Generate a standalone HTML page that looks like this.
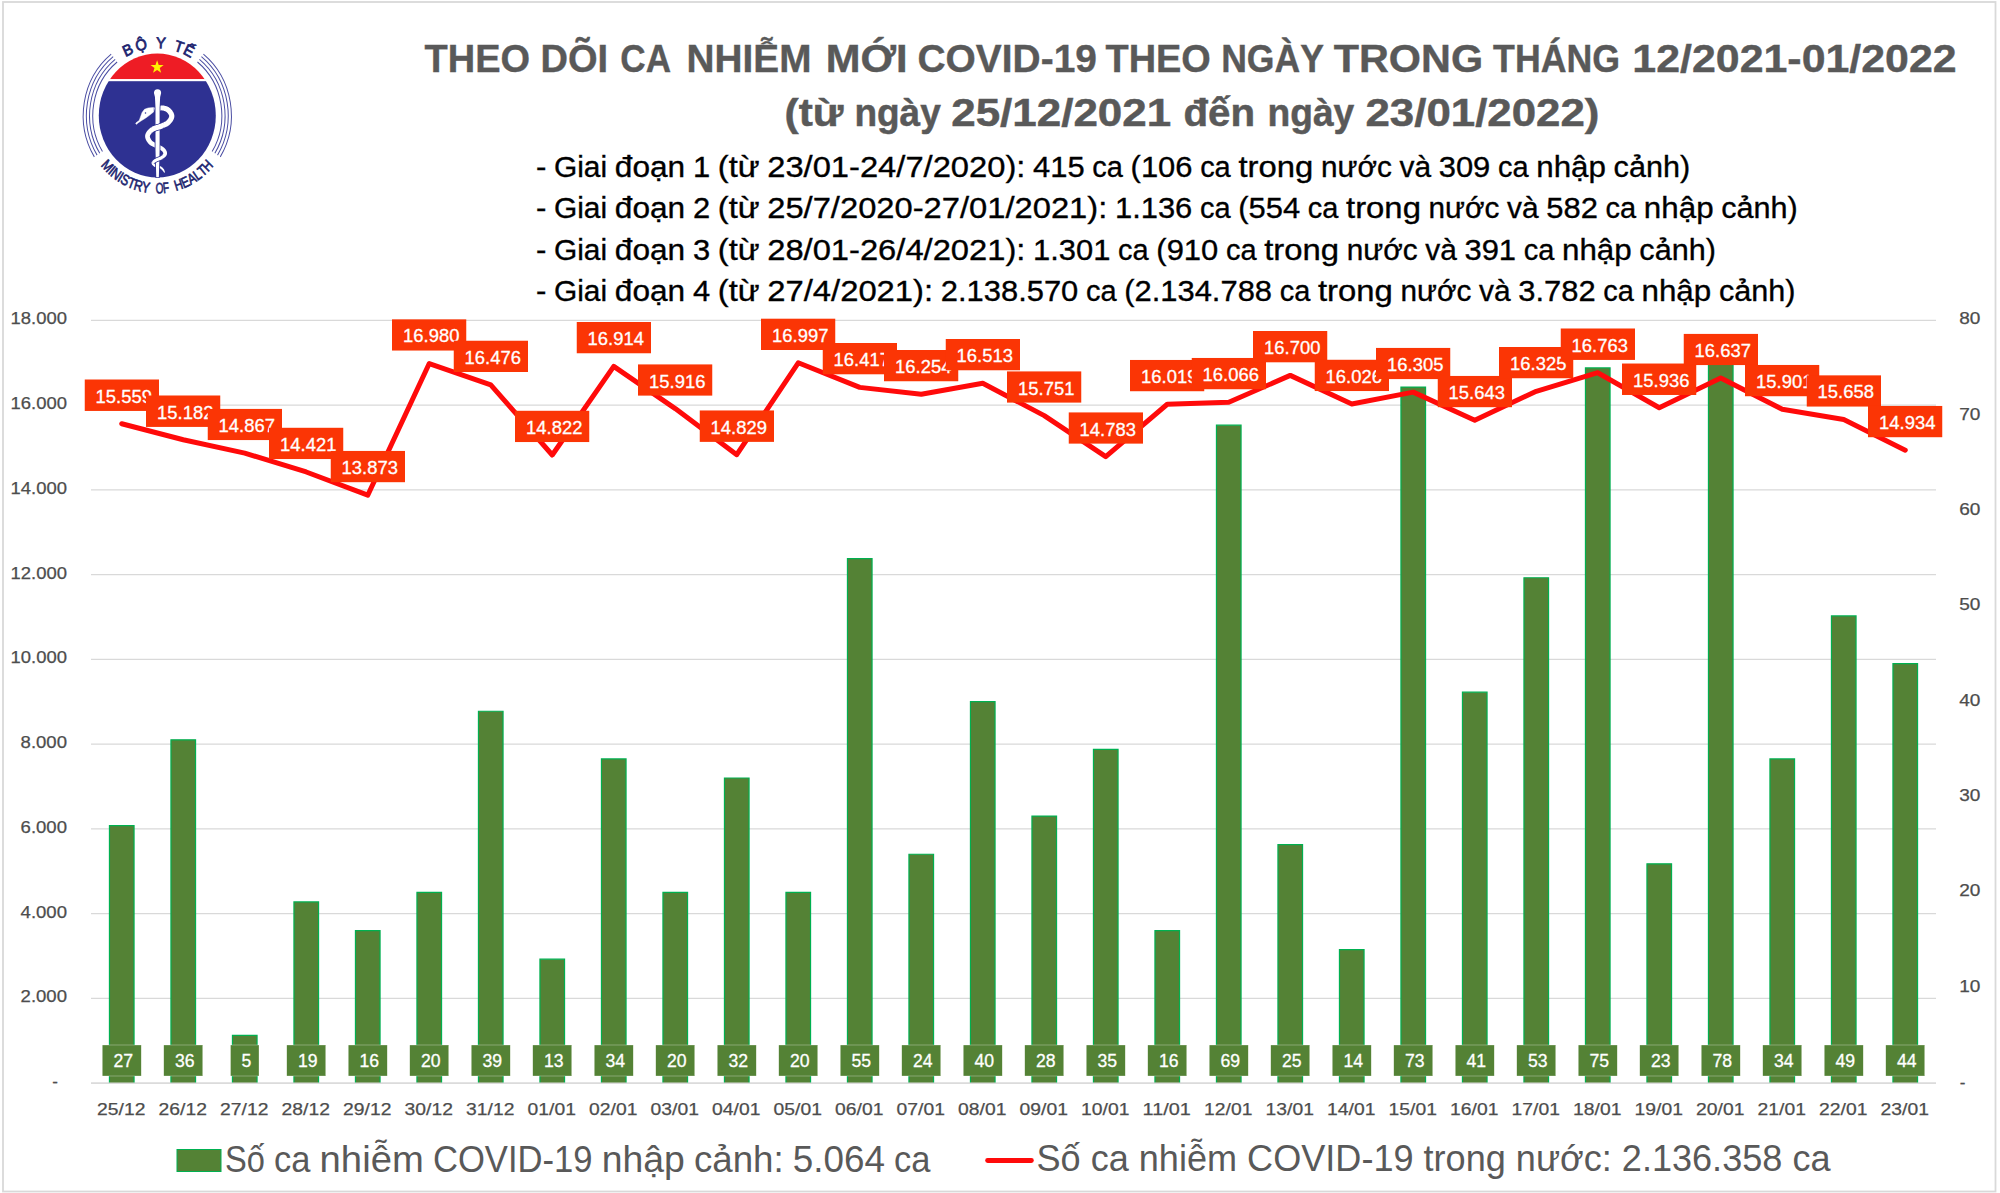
<!DOCTYPE html>
<html lang="vi">
<head>
<meta charset="utf-8">
<title>Theo dõi ca nhiễm mới COVID-19</title>
<style>
html,body{margin:0;padding:0;background:#ffffff;}
body{width:2000px;height:1193px;overflow:hidden;position:relative;font-family:"Liberation Sans",sans-serif;}
svg text{font-family:"Liberation Sans",sans-serif;}
</style>
</head>
<body>
<svg width="2000" height="1193" viewBox="0 0 2000 1193" style="position:absolute;left:0;top:0">
<rect x="0" y="0" width="2000" height="1193" fill="#ffffff"/>
<rect x="3" y="2" width="1992.5" height="1189.5" fill="none" stroke="#d9d9d9" stroke-width="1.8"/>
<g stroke="#d9d9d9" stroke-width="1.3">
<line x1="91.0" y1="1083.10" x2="1936.0" y2="1083.10"/>
<line x1="91.0" y1="998.34" x2="1936.0" y2="998.34"/>
<line x1="91.0" y1="913.59" x2="1936.0" y2="913.59"/>
<line x1="91.0" y1="828.83" x2="1936.0" y2="828.83"/>
<line x1="91.0" y1="744.08" x2="1936.0" y2="744.08"/>
<line x1="91.0" y1="659.32" x2="1936.0" y2="659.32"/>
<line x1="91.0" y1="574.57" x2="1936.0" y2="574.57"/>
<line x1="91.0" y1="489.81" x2="1936.0" y2="489.81"/>
<line x1="91.0" y1="405.06" x2="1936.0" y2="405.06"/>
<line x1="91.0" y1="320.30" x2="1936.0" y2="320.30"/>
</g>
<g font-family="Liberation Sans, sans-serif" font-size="17" fill="#4d4d4d" stroke="#4d4d4d" stroke-width="0.25" text-anchor="end">
<text x="67" y="1002.2" textLength="46.4" lengthAdjust="spacingAndGlyphs">2.000</text>
<text x="67" y="917.5" textLength="46.4" lengthAdjust="spacingAndGlyphs">4.000</text>
<text x="67" y="832.7" textLength="46.4" lengthAdjust="spacingAndGlyphs">6.000</text>
<text x="67" y="748.0" textLength="46.4" lengthAdjust="spacingAndGlyphs">8.000</text>
<text x="67" y="663.2" textLength="56.4" lengthAdjust="spacingAndGlyphs">10.000</text>
<text x="67" y="578.5" textLength="56.4" lengthAdjust="spacingAndGlyphs">12.000</text>
<text x="67" y="493.7" textLength="56.4" lengthAdjust="spacingAndGlyphs">14.000</text>
<text x="67" y="409.0" textLength="56.4" lengthAdjust="spacingAndGlyphs">16.000</text>
<text x="67" y="324.2" textLength="56.4" lengthAdjust="spacingAndGlyphs">18.000</text>
<text x="58" y="1087.0">-</text>
</g>
<g font-family="Liberation Sans, sans-serif" font-size="17" fill="#4d4d4d" stroke="#4d4d4d" stroke-width="0.25" text-anchor="middle">
<text x="1969.8" y="991.6" textLength="21.2" lengthAdjust="spacingAndGlyphs">10</text>
<text x="1969.8" y="896.3" textLength="21.2" lengthAdjust="spacingAndGlyphs">20</text>
<text x="1969.8" y="800.9" textLength="21.2" lengthAdjust="spacingAndGlyphs">30</text>
<text x="1969.8" y="705.6" textLength="21.2" lengthAdjust="spacingAndGlyphs">40</text>
<text x="1969.8" y="610.2" textLength="21.2" lengthAdjust="spacingAndGlyphs">50</text>
<text x="1969.8" y="514.9" textLength="21.2" lengthAdjust="spacingAndGlyphs">60</text>
<text x="1969.8" y="419.5" textLength="21.2" lengthAdjust="spacingAndGlyphs">70</text>
<text x="1969.8" y="324.2" textLength="21.2" lengthAdjust="spacingAndGlyphs">80</text>
<text x="1962.6" y="1087.7">-</text>
</g>
<g fill="#548235" stroke="#00b050" stroke-width="1.2">
<path d="M109.45 1083.10 V825.65 H134.05 V1083.10"/>
<path d="M170.95 1083.10 V739.84 H195.55 V1083.10"/>
<path d="M232.45 1083.10 V1035.42 H257.05 V1083.10"/>
<path d="M293.95 1083.10 V901.93 H318.55 V1083.10"/>
<path d="M355.45 1083.10 V930.54 H380.05 V1083.10"/>
<path d="M416.95 1083.10 V892.40 H441.55 V1083.10"/>
<path d="M478.45 1083.10 V711.23 H503.05 V1083.10"/>
<path d="M539.95 1083.10 V959.14 H564.55 V1083.10"/>
<path d="M601.45 1083.10 V758.91 H626.05 V1083.10"/>
<path d="M662.95 1083.10 V892.40 H687.55 V1083.10"/>
<path d="M724.45 1083.10 V777.98 H749.05 V1083.10"/>
<path d="M785.95 1083.10 V892.40 H810.55 V1083.10"/>
<path d="M847.45 1083.10 V558.67 H872.05 V1083.10"/>
<path d="M908.95 1083.10 V854.26 H933.55 V1083.10"/>
<path d="M970.45 1083.10 V701.70 H995.05 V1083.10"/>
<path d="M1031.95 1083.10 V816.12 H1056.55 V1083.10"/>
<path d="M1093.45 1083.10 V749.38 H1118.05 V1083.10"/>
<path d="M1154.95 1083.10 V930.54 H1179.55 V1083.10"/>
<path d="M1216.45 1083.10 V425.18 H1241.05 V1083.10"/>
<path d="M1277.95 1083.10 V844.72 H1302.55 V1083.10"/>
<path d="M1339.45 1083.10 V949.61 H1364.05 V1083.10"/>
<path d="M1400.95 1083.10 V387.04 H1425.55 V1083.10"/>
<path d="M1462.45 1083.10 V692.16 H1487.05 V1083.10"/>
<path d="M1523.95 1083.10 V577.74 H1548.55 V1083.10"/>
<path d="M1585.45 1083.10 V367.97 H1610.05 V1083.10"/>
<path d="M1646.95 1083.10 V863.79 H1671.55 V1083.10"/>
<path d="M1708.45 1083.10 V339.37 H1733.05 V1083.10"/>
<path d="M1769.95 1083.10 V758.91 H1794.55 V1083.10"/>
<path d="M1831.45 1083.10 V615.88 H1856.05 V1083.10"/>
<path d="M1892.95 1083.10 V663.56 H1917.55 V1083.10"/>
</g>
<line x1="91.0" y1="1083.10" x2="1936.0" y2="1083.10" stroke="#d9d9d9" stroke-width="1.4"/>
<g font-family="Liberation Sans, sans-serif" font-size="17.6" fill="#ffffff" stroke="#ffffff" stroke-width="0.3" text-anchor="middle">
<rect x="102.25" y="1045" width="39.00" height="31" fill="#548235"/>
<text x="123.35" y="1067.0" textLength="19.6" lengthAdjust="spacingAndGlyphs">27</text>
<rect x="163.75" y="1045" width="39.00" height="31" fill="#548235"/>
<text x="184.85" y="1067.0" textLength="19.6" lengthAdjust="spacingAndGlyphs">36</text>
<rect x="230.50" y="1045" width="28.50" height="31" fill="#548235"/>
<text x="246.35" y="1067.0" textLength="9.8" lengthAdjust="spacingAndGlyphs">5</text>
<rect x="286.75" y="1045" width="39.00" height="31" fill="#548235"/>
<text x="307.85" y="1067.0" textLength="19.6" lengthAdjust="spacingAndGlyphs">19</text>
<rect x="348.25" y="1045" width="39.00" height="31" fill="#548235"/>
<text x="369.35" y="1067.0" textLength="19.6" lengthAdjust="spacingAndGlyphs">16</text>
<rect x="409.75" y="1045" width="39.00" height="31" fill="#548235"/>
<text x="430.85" y="1067.0" textLength="19.6" lengthAdjust="spacingAndGlyphs">20</text>
<rect x="471.25" y="1045" width="39.00" height="31" fill="#548235"/>
<text x="492.35" y="1067.0" textLength="19.6" lengthAdjust="spacingAndGlyphs">39</text>
<rect x="532.75" y="1045" width="39.00" height="31" fill="#548235"/>
<text x="553.85" y="1067.0" textLength="19.6" lengthAdjust="spacingAndGlyphs">13</text>
<rect x="594.25" y="1045" width="39.00" height="31" fill="#548235"/>
<text x="615.35" y="1067.0" textLength="19.6" lengthAdjust="spacingAndGlyphs">34</text>
<rect x="655.75" y="1045" width="39.00" height="31" fill="#548235"/>
<text x="676.85" y="1067.0" textLength="19.6" lengthAdjust="spacingAndGlyphs">20</text>
<rect x="717.25" y="1045" width="39.00" height="31" fill="#548235"/>
<text x="738.35" y="1067.0" textLength="19.6" lengthAdjust="spacingAndGlyphs">32</text>
<rect x="778.75" y="1045" width="39.00" height="31" fill="#548235"/>
<text x="799.85" y="1067.0" textLength="19.6" lengthAdjust="spacingAndGlyphs">20</text>
<rect x="840.25" y="1045" width="39.00" height="31" fill="#548235"/>
<text x="861.35" y="1067.0" textLength="19.6" lengthAdjust="spacingAndGlyphs">55</text>
<rect x="901.75" y="1045" width="39.00" height="31" fill="#548235"/>
<text x="922.85" y="1067.0" textLength="19.6" lengthAdjust="spacingAndGlyphs">24</text>
<rect x="963.25" y="1045" width="39.00" height="31" fill="#548235"/>
<text x="984.35" y="1067.0" textLength="19.6" lengthAdjust="spacingAndGlyphs">40</text>
<rect x="1024.75" y="1045" width="39.00" height="31" fill="#548235"/>
<text x="1045.85" y="1067.0" textLength="19.6" lengthAdjust="spacingAndGlyphs">28</text>
<rect x="1086.25" y="1045" width="39.00" height="31" fill="#548235"/>
<text x="1107.35" y="1067.0" textLength="19.6" lengthAdjust="spacingAndGlyphs">35</text>
<rect x="1147.75" y="1045" width="39.00" height="31" fill="#548235"/>
<text x="1168.85" y="1067.0" textLength="19.6" lengthAdjust="spacingAndGlyphs">16</text>
<rect x="1209.25" y="1045" width="39.00" height="31" fill="#548235"/>
<text x="1230.35" y="1067.0" textLength="19.6" lengthAdjust="spacingAndGlyphs">69</text>
<rect x="1270.75" y="1045" width="39.00" height="31" fill="#548235"/>
<text x="1291.85" y="1067.0" textLength="19.6" lengthAdjust="spacingAndGlyphs">25</text>
<rect x="1332.25" y="1045" width="39.00" height="31" fill="#548235"/>
<text x="1353.35" y="1067.0" textLength="19.6" lengthAdjust="spacingAndGlyphs">14</text>
<rect x="1393.75" y="1045" width="39.00" height="31" fill="#548235"/>
<text x="1414.85" y="1067.0" textLength="19.6" lengthAdjust="spacingAndGlyphs">73</text>
<rect x="1455.25" y="1045" width="39.00" height="31" fill="#548235"/>
<text x="1476.35" y="1067.0" textLength="19.6" lengthAdjust="spacingAndGlyphs">41</text>
<rect x="1516.75" y="1045" width="39.00" height="31" fill="#548235"/>
<text x="1537.85" y="1067.0" textLength="19.6" lengthAdjust="spacingAndGlyphs">53</text>
<rect x="1578.25" y="1045" width="39.00" height="31" fill="#548235"/>
<text x="1599.35" y="1067.0" textLength="19.6" lengthAdjust="spacingAndGlyphs">75</text>
<rect x="1639.75" y="1045" width="39.00" height="31" fill="#548235"/>
<text x="1660.85" y="1067.0" textLength="19.6" lengthAdjust="spacingAndGlyphs">23</text>
<rect x="1701.25" y="1045" width="39.00" height="31" fill="#548235"/>
<text x="1722.35" y="1067.0" textLength="19.6" lengthAdjust="spacingAndGlyphs">78</text>
<rect x="1762.75" y="1045" width="39.00" height="31" fill="#548235"/>
<text x="1783.85" y="1067.0" textLength="19.6" lengthAdjust="spacingAndGlyphs">34</text>
<rect x="1824.25" y="1045" width="39.00" height="31" fill="#548235"/>
<text x="1845.35" y="1067.0" textLength="19.6" lengthAdjust="spacingAndGlyphs">49</text>
<rect x="1885.75" y="1045" width="39.00" height="31" fill="#548235"/>
<text x="1906.85" y="1067.0" textLength="19.6" lengthAdjust="spacingAndGlyphs">44</text>
</g>
<g font-family="Liberation Sans, sans-serif" font-size="17" fill="#4d4d4d" stroke="#4d4d4d" stroke-width="0.25" text-anchor="middle">
<text x="121.25" y="1114.5" textLength="48.3" lengthAdjust="spacingAndGlyphs">25/12</text>
<text x="182.75" y="1114.5" textLength="48.3" lengthAdjust="spacingAndGlyphs">26/12</text>
<text x="244.25" y="1114.5" textLength="48.3" lengthAdjust="spacingAndGlyphs">27/12</text>
<text x="305.75" y="1114.5" textLength="48.3" lengthAdjust="spacingAndGlyphs">28/12</text>
<text x="367.25" y="1114.5" textLength="48.3" lengthAdjust="spacingAndGlyphs">29/12</text>
<text x="428.75" y="1114.5" textLength="48.3" lengthAdjust="spacingAndGlyphs">30/12</text>
<text x="490.25" y="1114.5" textLength="48.3" lengthAdjust="spacingAndGlyphs">31/12</text>
<text x="551.75" y="1114.5" textLength="48.3" lengthAdjust="spacingAndGlyphs">01/01</text>
<text x="613.25" y="1114.5" textLength="48.3" lengthAdjust="spacingAndGlyphs">02/01</text>
<text x="674.75" y="1114.5" textLength="48.3" lengthAdjust="spacingAndGlyphs">03/01</text>
<text x="736.25" y="1114.5" textLength="48.3" lengthAdjust="spacingAndGlyphs">04/01</text>
<text x="797.75" y="1114.5" textLength="48.3" lengthAdjust="spacingAndGlyphs">05/01</text>
<text x="859.25" y="1114.5" textLength="48.3" lengthAdjust="spacingAndGlyphs">06/01</text>
<text x="920.75" y="1114.5" textLength="48.3" lengthAdjust="spacingAndGlyphs">07/01</text>
<text x="982.25" y="1114.5" textLength="48.3" lengthAdjust="spacingAndGlyphs">08/01</text>
<text x="1043.75" y="1114.5" textLength="48.3" lengthAdjust="spacingAndGlyphs">09/01</text>
<text x="1105.25" y="1114.5" textLength="48.3" lengthAdjust="spacingAndGlyphs">10/01</text>
<text x="1166.75" y="1114.5" textLength="48.3" lengthAdjust="spacingAndGlyphs">11/01</text>
<text x="1228.25" y="1114.5" textLength="48.3" lengthAdjust="spacingAndGlyphs">12/01</text>
<text x="1289.75" y="1114.5" textLength="48.3" lengthAdjust="spacingAndGlyphs">13/01</text>
<text x="1351.25" y="1114.5" textLength="48.3" lengthAdjust="spacingAndGlyphs">14/01</text>
<text x="1412.75" y="1114.5" textLength="48.3" lengthAdjust="spacingAndGlyphs">15/01</text>
<text x="1474.25" y="1114.5" textLength="48.3" lengthAdjust="spacingAndGlyphs">16/01</text>
<text x="1535.75" y="1114.5" textLength="48.3" lengthAdjust="spacingAndGlyphs">17/01</text>
<text x="1597.25" y="1114.5" textLength="48.3" lengthAdjust="spacingAndGlyphs">18/01</text>
<text x="1658.75" y="1114.5" textLength="48.3" lengthAdjust="spacingAndGlyphs">19/01</text>
<text x="1720.25" y="1114.5" textLength="48.3" lengthAdjust="spacingAndGlyphs">20/01</text>
<text x="1781.75" y="1114.5" textLength="48.3" lengthAdjust="spacingAndGlyphs">21/01</text>
<text x="1843.25" y="1114.5" textLength="48.3" lengthAdjust="spacingAndGlyphs">22/01</text>
<text x="1904.75" y="1114.5" textLength="48.3" lengthAdjust="spacingAndGlyphs">23/01</text>
</g>
<polyline points="121.75,423.74 183.25,439.72 244.75,453.07 306.25,471.97 367.75,495.19 429.25,363.53 490.75,384.88 552.25,454.98 613.75,366.32 675.25,408.62 736.75,454.68 798.25,362.80 859.75,387.38 921.25,394.29 982.75,383.32 1044.25,415.61 1105.75,456.63 1167.25,404.25 1228.75,402.26 1290.25,375.39 1351.75,403.95 1413.25,392.13 1474.75,420.18 1536.25,391.28 1597.75,372.72 1659.25,407.77 1720.75,378.06 1782.25,409.25 1843.75,419.55 1905.25,450.23" fill="none" stroke="#ff0a0a" stroke-width="5.0" stroke-linejoin="round" stroke-linecap="round"/>
<svg x="84.50" y="379.34" width="74.50" height="31.60" overflow="hidden">
<rect x="0" y="0" width="74.50" height="31.60" fill="#fb3505"/>
<text x="39.25" y="23.3" font-family="Liberation Sans, sans-serif" font-size="17.7" fill="#ffffff" stroke="#ffffff" stroke-width="0.3" text-anchor="middle" textLength="56.3" lengthAdjust="spacingAndGlyphs">15.559</text>
</svg>
<svg x="146.00" y="395.32" width="74.50" height="31.60" overflow="hidden">
<rect x="0" y="0" width="74.50" height="31.60" fill="#fb3505"/>
<text x="39.25" y="23.3" font-family="Liberation Sans, sans-serif" font-size="17.7" fill="#ffffff" stroke="#ffffff" stroke-width="0.3" text-anchor="middle" textLength="56.3" lengthAdjust="spacingAndGlyphs">15.182</text>
</svg>
<svg x="207.50" y="408.67" width="74.50" height="31.60" overflow="hidden">
<rect x="0" y="0" width="74.50" height="31.60" fill="#fb3505"/>
<text x="39.25" y="23.3" font-family="Liberation Sans, sans-serif" font-size="17.7" fill="#ffffff" stroke="#ffffff" stroke-width="0.3" text-anchor="middle" textLength="56.3" lengthAdjust="spacingAndGlyphs">14.867</text>
</svg>
<svg x="269.00" y="427.57" width="74.50" height="31.60" overflow="hidden">
<rect x="0" y="0" width="74.50" height="31.60" fill="#fb3505"/>
<text x="39.25" y="23.3" font-family="Liberation Sans, sans-serif" font-size="17.7" fill="#ffffff" stroke="#ffffff" stroke-width="0.3" text-anchor="middle" textLength="56.3" lengthAdjust="spacingAndGlyphs">14.421</text>
</svg>
<svg x="330.50" y="450.79" width="74.50" height="31.60" overflow="hidden">
<rect x="0" y="0" width="74.50" height="31.60" fill="#fb3505"/>
<text x="39.25" y="23.3" font-family="Liberation Sans, sans-serif" font-size="17.7" fill="#ffffff" stroke="#ffffff" stroke-width="0.3" text-anchor="middle" textLength="56.3" lengthAdjust="spacingAndGlyphs">13.873</text>
</svg>
<svg x="392.00" y="319.13" width="74.50" height="31.60" overflow="hidden">
<rect x="0" y="0" width="74.50" height="31.60" fill="#fb3505"/>
<text x="39.25" y="23.3" font-family="Liberation Sans, sans-serif" font-size="17.7" fill="#ffffff" stroke="#ffffff" stroke-width="0.3" text-anchor="middle" textLength="56.3" lengthAdjust="spacingAndGlyphs">16.980</text>
</svg>
<svg x="453.50" y="340.48" width="74.50" height="31.60" overflow="hidden">
<rect x="0" y="0" width="74.50" height="31.60" fill="#fb3505"/>
<text x="39.25" y="23.3" font-family="Liberation Sans, sans-serif" font-size="17.7" fill="#ffffff" stroke="#ffffff" stroke-width="0.3" text-anchor="middle" textLength="56.3" lengthAdjust="spacingAndGlyphs">16.476</text>
</svg>
<svg x="515.00" y="410.58" width="74.50" height="31.60" overflow="hidden">
<rect x="0" y="0" width="74.50" height="31.60" fill="#fb3505"/>
<text x="39.25" y="23.3" font-family="Liberation Sans, sans-serif" font-size="17.7" fill="#ffffff" stroke="#ffffff" stroke-width="0.3" text-anchor="middle" textLength="56.3" lengthAdjust="spacingAndGlyphs">14.822</text>
</svg>
<svg x="576.50" y="321.92" width="74.50" height="31.60" overflow="hidden">
<rect x="0" y="0" width="74.50" height="31.60" fill="#fb3505"/>
<text x="39.25" y="23.3" font-family="Liberation Sans, sans-serif" font-size="17.7" fill="#ffffff" stroke="#ffffff" stroke-width="0.3" text-anchor="middle" textLength="56.3" lengthAdjust="spacingAndGlyphs">16.914</text>
</svg>
<svg x="638.00" y="364.22" width="74.50" height="31.60" overflow="hidden">
<rect x="0" y="0" width="74.50" height="31.60" fill="#fb3505"/>
<text x="39.25" y="23.3" font-family="Liberation Sans, sans-serif" font-size="17.7" fill="#ffffff" stroke="#ffffff" stroke-width="0.3" text-anchor="middle" textLength="56.3" lengthAdjust="spacingAndGlyphs">15.916</text>
</svg>
<svg x="699.50" y="410.28" width="74.50" height="31.60" overflow="hidden">
<rect x="0" y="0" width="74.50" height="31.60" fill="#fb3505"/>
<text x="39.25" y="23.3" font-family="Liberation Sans, sans-serif" font-size="17.7" fill="#ffffff" stroke="#ffffff" stroke-width="0.3" text-anchor="middle" textLength="56.3" lengthAdjust="spacingAndGlyphs">14.829</text>
</svg>
<svg x="761.00" y="318.40" width="74.50" height="31.60" overflow="hidden">
<rect x="0" y="0" width="74.50" height="31.60" fill="#fb3505"/>
<text x="39.25" y="23.3" font-family="Liberation Sans, sans-serif" font-size="17.7" fill="#ffffff" stroke="#ffffff" stroke-width="0.3" text-anchor="middle" textLength="56.3" lengthAdjust="spacingAndGlyphs">16.997</text>
</svg>
<svg x="822.50" y="342.98" width="74.50" height="31.60" overflow="hidden">
<rect x="0" y="0" width="74.50" height="31.60" fill="#fb3505"/>
<text x="39.25" y="23.3" font-family="Liberation Sans, sans-serif" font-size="17.7" fill="#ffffff" stroke="#ffffff" stroke-width="0.3" text-anchor="middle" textLength="56.3" lengthAdjust="spacingAndGlyphs">16.417</text>
</svg>
<svg x="884.00" y="349.89" width="74.50" height="31.60" overflow="hidden">
<rect x="0" y="0" width="74.50" height="31.60" fill="#fb3505"/>
<text x="39.25" y="23.3" font-family="Liberation Sans, sans-serif" font-size="17.7" fill="#ffffff" stroke="#ffffff" stroke-width="0.3" text-anchor="middle" textLength="56.3" lengthAdjust="spacingAndGlyphs">16.254</text>
</svg>
<svg x="945.50" y="338.92" width="74.50" height="31.60" overflow="hidden">
<rect x="0" y="0" width="74.50" height="31.60" fill="#fb3505"/>
<text x="39.25" y="23.3" font-family="Liberation Sans, sans-serif" font-size="17.7" fill="#ffffff" stroke="#ffffff" stroke-width="0.3" text-anchor="middle" textLength="56.3" lengthAdjust="spacingAndGlyphs">16.513</text>
</svg>
<svg x="1007.00" y="371.21" width="74.50" height="31.60" overflow="hidden">
<rect x="0" y="0" width="74.50" height="31.60" fill="#fb3505"/>
<text x="39.25" y="23.3" font-family="Liberation Sans, sans-serif" font-size="17.7" fill="#ffffff" stroke="#ffffff" stroke-width="0.3" text-anchor="middle" textLength="56.3" lengthAdjust="spacingAndGlyphs">15.751</text>
</svg>
<svg x="1068.50" y="412.23" width="74.50" height="31.60" overflow="hidden">
<rect x="0" y="0" width="74.50" height="31.60" fill="#fb3505"/>
<text x="39.25" y="23.3" font-family="Liberation Sans, sans-serif" font-size="17.7" fill="#ffffff" stroke="#ffffff" stroke-width="0.3" text-anchor="middle" textLength="56.3" lengthAdjust="spacingAndGlyphs">14.783</text>
</svg>
<svg x="1130.00" y="359.85" width="74.50" height="31.60" overflow="hidden">
<rect x="0" y="0" width="74.50" height="31.60" fill="#fb3505"/>
<text x="39.25" y="23.3" font-family="Liberation Sans, sans-serif" font-size="17.7" fill="#ffffff" stroke="#ffffff" stroke-width="0.3" text-anchor="middle" textLength="56.3" lengthAdjust="spacingAndGlyphs">16.019</text>
</svg>
<svg x="1191.50" y="357.86" width="74.50" height="31.60" overflow="hidden">
<rect x="0" y="0" width="74.50" height="31.60" fill="#fb3505"/>
<text x="39.25" y="23.3" font-family="Liberation Sans, sans-serif" font-size="17.7" fill="#ffffff" stroke="#ffffff" stroke-width="0.3" text-anchor="middle" textLength="56.3" lengthAdjust="spacingAndGlyphs">16.066</text>
</svg>
<svg x="1253.00" y="330.99" width="74.50" height="31.60" overflow="hidden">
<rect x="0" y="0" width="74.50" height="31.60" fill="#fb3505"/>
<text x="39.25" y="23.3" font-family="Liberation Sans, sans-serif" font-size="17.7" fill="#ffffff" stroke="#ffffff" stroke-width="0.3" text-anchor="middle" textLength="56.3" lengthAdjust="spacingAndGlyphs">16.700</text>
</svg>
<svg x="1314.50" y="359.55" width="74.50" height="31.60" overflow="hidden">
<rect x="0" y="0" width="74.50" height="31.60" fill="#fb3505"/>
<text x="39.25" y="23.3" font-family="Liberation Sans, sans-serif" font-size="17.7" fill="#ffffff" stroke="#ffffff" stroke-width="0.3" text-anchor="middle" textLength="56.3" lengthAdjust="spacingAndGlyphs">16.026</text>
</svg>
<svg x="1376.00" y="347.73" width="74.50" height="31.60" overflow="hidden">
<rect x="0" y="0" width="74.50" height="31.60" fill="#fb3505"/>
<text x="39.25" y="23.3" font-family="Liberation Sans, sans-serif" font-size="17.7" fill="#ffffff" stroke="#ffffff" stroke-width="0.3" text-anchor="middle" textLength="56.3" lengthAdjust="spacingAndGlyphs">16.305</text>
</svg>
<svg x="1437.50" y="375.78" width="74.50" height="31.60" overflow="hidden">
<rect x="0" y="0" width="74.50" height="31.60" fill="#fb3505"/>
<text x="39.25" y="23.3" font-family="Liberation Sans, sans-serif" font-size="17.7" fill="#ffffff" stroke="#ffffff" stroke-width="0.3" text-anchor="middle" textLength="56.3" lengthAdjust="spacingAndGlyphs">15.643</text>
</svg>
<svg x="1499.00" y="346.88" width="74.50" height="31.60" overflow="hidden">
<rect x="0" y="0" width="74.50" height="31.60" fill="#fb3505"/>
<text x="39.25" y="23.3" font-family="Liberation Sans, sans-serif" font-size="17.7" fill="#ffffff" stroke="#ffffff" stroke-width="0.3" text-anchor="middle" textLength="56.3" lengthAdjust="spacingAndGlyphs">16.325</text>
</svg>
<svg x="1560.50" y="328.32" width="74.50" height="31.60" overflow="hidden">
<rect x="0" y="0" width="74.50" height="31.60" fill="#fb3505"/>
<text x="39.25" y="23.3" font-family="Liberation Sans, sans-serif" font-size="17.7" fill="#ffffff" stroke="#ffffff" stroke-width="0.3" text-anchor="middle" textLength="56.3" lengthAdjust="spacingAndGlyphs">16.763</text>
</svg>
<svg x="1622.00" y="363.37" width="74.50" height="31.60" overflow="hidden">
<rect x="0" y="0" width="74.50" height="31.60" fill="#fb3505"/>
<text x="39.25" y="23.3" font-family="Liberation Sans, sans-serif" font-size="17.7" fill="#ffffff" stroke="#ffffff" stroke-width="0.3" text-anchor="middle" textLength="56.3" lengthAdjust="spacingAndGlyphs">15.936</text>
</svg>
<svg x="1683.50" y="333.66" width="74.50" height="31.60" overflow="hidden">
<rect x="0" y="0" width="74.50" height="31.60" fill="#fb3505"/>
<text x="39.25" y="23.3" font-family="Liberation Sans, sans-serif" font-size="17.7" fill="#ffffff" stroke="#ffffff" stroke-width="0.3" text-anchor="middle" textLength="56.3" lengthAdjust="spacingAndGlyphs">16.637</text>
</svg>
<svg x="1745.00" y="364.85" width="74.50" height="31.60" overflow="hidden">
<rect x="0" y="0" width="74.50" height="31.60" fill="#fb3505"/>
<text x="39.25" y="23.3" font-family="Liberation Sans, sans-serif" font-size="17.7" fill="#ffffff" stroke="#ffffff" stroke-width="0.3" text-anchor="middle" textLength="56.3" lengthAdjust="spacingAndGlyphs">15.901</text>
</svg>
<svg x="1806.50" y="375.15" width="74.50" height="31.60" overflow="hidden">
<rect x="0" y="0" width="74.50" height="31.60" fill="#fb3505"/>
<text x="39.25" y="23.3" font-family="Liberation Sans, sans-serif" font-size="17.7" fill="#ffffff" stroke="#ffffff" stroke-width="0.3" text-anchor="middle" textLength="56.3" lengthAdjust="spacingAndGlyphs">15.658</text>
</svg>
<svg x="1868.00" y="405.83" width="74.50" height="31.60" overflow="hidden">
<rect x="0" y="0" width="74.50" height="31.60" fill="#fb3505"/>
<text x="39.25" y="23.3" font-family="Liberation Sans, sans-serif" font-size="17.7" fill="#ffffff" stroke="#ffffff" stroke-width="0.3" text-anchor="middle" textLength="56.3" lengthAdjust="spacingAndGlyphs">14.934</text>
</svg>
<g font-family="Liberation Sans, sans-serif">
<text x="424.50" y="71.50" font-size="39.6" fill="#595959" font-weight="bold" textLength="105.60" lengthAdjust="spacingAndGlyphs" stroke="#595959" stroke-width="0.4">THEO</text>
<text x="540.50" y="71.50" font-size="39.6" fill="#595959" font-weight="bold" textLength="67.60" lengthAdjust="spacingAndGlyphs" stroke="#595959" stroke-width="0.4">DÕI</text>
<text x="620.30" y="71.50" font-size="39.6" fill="#595959" font-weight="bold" textLength="50.70" lengthAdjust="spacingAndGlyphs" stroke="#595959" stroke-width="0.4">CA</text>
<text x="686.60" y="71.50" font-size="39.6" fill="#595959" font-weight="bold" textLength="124.80" lengthAdjust="spacingAndGlyphs" stroke="#595959" stroke-width="0.4">NHIỄM</text>
<text x="825.70" y="71.50" font-size="39.6" fill="#595959" font-weight="bold" textLength="81.90" lengthAdjust="spacingAndGlyphs" stroke="#595959" stroke-width="0.4">MỚI</text>
<text x="917.50" y="71.50" font-size="39.6" fill="#595959" font-weight="bold" textLength="179.40" lengthAdjust="spacingAndGlyphs" stroke="#595959" stroke-width="0.4">COVID-19</text>
<text x="1105.50" y="71.50" font-size="39.6" fill="#595959" font-weight="bold" textLength="105.30" lengthAdjust="spacingAndGlyphs" stroke="#595959" stroke-width="0.4">THEO</text>
<text x="1221.20" y="71.50" font-size="39.6" fill="#595959" font-weight="bold" textLength="102.70" lengthAdjust="spacingAndGlyphs" stroke="#595959" stroke-width="0.4">NGÀY</text>
<text x="1333.70" y="71.50" font-size="39.6" fill="#595959" font-weight="bold" textLength="149.40" lengthAdjust="spacingAndGlyphs" stroke="#595959" stroke-width="0.4">TRONG</text>
<text x="1493.10" y="71.50" font-size="39.6" fill="#595959" font-weight="bold" textLength="127.00" lengthAdjust="spacingAndGlyphs" stroke="#595959" stroke-width="0.4">THÁNG</text>
<text x="1632.30" y="71.50" font-size="39.6" fill="#595959" font-weight="bold" textLength="324.40" lengthAdjust="spacingAndGlyphs" stroke="#595959" stroke-width="0.4">12/2021-01/2022</text>
<text x="784.60" y="126.00" font-size="39.6" fill="#595959" font-weight="bold" textLength="58.90" lengthAdjust="spacingAndGlyphs" stroke="#595959" stroke-width="0.5">(từ</text>
<text x="854.40" y="126.00" font-size="39.6" fill="#595959" font-weight="bold" textLength="86.40" lengthAdjust="spacingAndGlyphs" stroke="#595959" stroke-width="0.5">ngày</text>
<text x="951.20" y="126.00" font-size="39.6" fill="#595959" font-weight="bold" textLength="220.00" lengthAdjust="spacingAndGlyphs" stroke="#595959" stroke-width="0.5">25/12/2021</text>
<text x="1183.40" y="126.00" font-size="39.6" fill="#595959" font-weight="bold" textLength="71.60" lengthAdjust="spacingAndGlyphs" stroke="#595959" stroke-width="0.5">đến</text>
<text x="1267.50" y="126.00" font-size="39.6" fill="#595959" font-weight="bold" textLength="86.80" lengthAdjust="spacingAndGlyphs" stroke="#595959" stroke-width="0.5">ngày</text>
<text x="1365.50" y="126.00" font-size="39.6" fill="#595959" font-weight="bold" textLength="233.90" lengthAdjust="spacingAndGlyphs" stroke="#595959" stroke-width="0.5">23/01/2022)</text>
</g>
<g font-family="Liberation Sans, sans-serif">
<text x="535.90" y="176.70" font-size="30.3" fill="#000000" textLength="10.39" lengthAdjust="spacingAndGlyphs" stroke="#000000" stroke-width="0.35">-</text>
<text x="553.96" y="176.70" font-size="30.3" fill="#000000" textLength="53.22" lengthAdjust="spacingAndGlyphs" stroke="#000000" stroke-width="0.35">Giai</text>
<text x="614.85" y="176.70" font-size="30.3" fill="#000000" textLength="70.38" lengthAdjust="spacingAndGlyphs" stroke="#000000" stroke-width="0.35">đoạn</text>
<text x="692.90" y="176.70" font-size="30.3" fill="#000000" textLength="17.19" lengthAdjust="spacingAndGlyphs" stroke="#000000" stroke-width="0.35">1</text>
<text x="717.77" y="176.70" font-size="30.3" fill="#000000" textLength="41.78" lengthAdjust="spacingAndGlyphs" stroke="#000000" stroke-width="0.35">(từ</text>
<text x="767.21" y="176.70" font-size="30.3" fill="#000000" textLength="258.20" lengthAdjust="spacingAndGlyphs" stroke="#000000" stroke-width="0.35">23/01-24/7/2020):</text>
<text x="1033.08" y="176.70" font-size="30.3" fill="#000000" textLength="51.58" lengthAdjust="spacingAndGlyphs" stroke="#000000" stroke-width="0.35">415</text>
<text x="1092.33" y="176.70" font-size="30.3" fill="#000000" textLength="30.60" lengthAdjust="spacingAndGlyphs" stroke="#000000" stroke-width="0.35">ca</text>
<text x="1130.60" y="176.70" font-size="30.3" fill="#000000" textLength="61.87" lengthAdjust="spacingAndGlyphs" stroke="#000000" stroke-width="0.35">(106</text>
<text x="1200.14" y="176.70" font-size="30.3" fill="#000000" textLength="30.60" lengthAdjust="spacingAndGlyphs" stroke="#000000" stroke-width="0.35">ca</text>
<text x="1238.40" y="176.70" font-size="30.3" fill="#000000" textLength="74.87" lengthAdjust="spacingAndGlyphs" stroke="#000000" stroke-width="0.35">trong</text>
<text x="1320.95" y="176.70" font-size="30.3" fill="#000000" textLength="70.85" lengthAdjust="spacingAndGlyphs" stroke="#000000" stroke-width="0.35">nước</text>
<text x="1399.46" y="176.70" font-size="30.3" fill="#000000" textLength="31.57" lengthAdjust="spacingAndGlyphs" stroke="#000000" stroke-width="0.35">và</text>
<text x="1438.71" y="176.70" font-size="30.3" fill="#000000" textLength="51.58" lengthAdjust="spacingAndGlyphs" stroke="#000000" stroke-width="0.35">309</text>
<text x="1497.96" y="176.70" font-size="30.3" fill="#000000" textLength="30.60" lengthAdjust="spacingAndGlyphs" stroke="#000000" stroke-width="0.35">ca</text>
<text x="1536.22" y="176.70" font-size="30.3" fill="#000000" textLength="69.72" lengthAdjust="spacingAndGlyphs" stroke="#000000" stroke-width="0.35">nhập</text>
<text x="1613.62" y="176.70" font-size="30.3" fill="#000000" textLength="76.53" lengthAdjust="spacingAndGlyphs" stroke="#000000" stroke-width="0.35">cảnh)</text>
<text x="535.90" y="218.20" font-size="30.3" fill="#000000" textLength="10.39" lengthAdjust="spacingAndGlyphs" stroke="#000000" stroke-width="0.35">-</text>
<text x="553.96" y="218.20" font-size="30.3" fill="#000000" textLength="53.22" lengthAdjust="spacingAndGlyphs" stroke="#000000" stroke-width="0.35">Giai</text>
<text x="614.85" y="218.20" font-size="30.3" fill="#000000" textLength="70.38" lengthAdjust="spacingAndGlyphs" stroke="#000000" stroke-width="0.35">đoạn</text>
<text x="692.90" y="218.20" font-size="30.3" fill="#000000" textLength="17.19" lengthAdjust="spacingAndGlyphs" stroke="#000000" stroke-width="0.35">2</text>
<text x="717.77" y="218.20" font-size="30.3" fill="#000000" textLength="41.78" lengthAdjust="spacingAndGlyphs" stroke="#000000" stroke-width="0.35">(từ</text>
<text x="767.21" y="218.20" font-size="30.3" fill="#000000" textLength="340.08" lengthAdjust="spacingAndGlyphs" stroke="#000000" stroke-width="0.35">25/7/2020-27/01/2021):</text>
<text x="1114.96" y="218.20" font-size="30.3" fill="#000000" textLength="77.34" lengthAdjust="spacingAndGlyphs" stroke="#000000" stroke-width="0.35">1.136</text>
<text x="1199.97" y="218.20" font-size="30.3" fill="#000000" textLength="30.60" lengthAdjust="spacingAndGlyphs" stroke="#000000" stroke-width="0.35">ca</text>
<text x="1238.24" y="218.20" font-size="30.3" fill="#000000" textLength="61.87" lengthAdjust="spacingAndGlyphs" stroke="#000000" stroke-width="0.35">(554</text>
<text x="1307.78" y="218.20" font-size="30.3" fill="#000000" textLength="30.60" lengthAdjust="spacingAndGlyphs" stroke="#000000" stroke-width="0.35">ca</text>
<text x="1346.04" y="218.20" font-size="30.3" fill="#000000" textLength="74.87" lengthAdjust="spacingAndGlyphs" stroke="#000000" stroke-width="0.35">trong</text>
<text x="1428.58" y="218.20" font-size="30.3" fill="#000000" textLength="70.85" lengthAdjust="spacingAndGlyphs" stroke="#000000" stroke-width="0.35">nước</text>
<text x="1507.10" y="218.20" font-size="30.3" fill="#000000" textLength="31.57" lengthAdjust="spacingAndGlyphs" stroke="#000000" stroke-width="0.35">và</text>
<text x="1546.34" y="218.20" font-size="30.3" fill="#000000" textLength="51.58" lengthAdjust="spacingAndGlyphs" stroke="#000000" stroke-width="0.35">582</text>
<text x="1605.60" y="218.20" font-size="30.3" fill="#000000" textLength="30.60" lengthAdjust="spacingAndGlyphs" stroke="#000000" stroke-width="0.35">ca</text>
<text x="1643.86" y="218.20" font-size="30.3" fill="#000000" textLength="69.72" lengthAdjust="spacingAndGlyphs" stroke="#000000" stroke-width="0.35">nhập</text>
<text x="1721.25" y="218.20" font-size="30.3" fill="#000000" textLength="76.53" lengthAdjust="spacingAndGlyphs" stroke="#000000" stroke-width="0.35">cảnh)</text>
<text x="535.90" y="259.70" font-size="30.3" fill="#000000" textLength="10.39" lengthAdjust="spacingAndGlyphs" stroke="#000000" stroke-width="0.35">-</text>
<text x="553.96" y="259.70" font-size="30.3" fill="#000000" textLength="53.22" lengthAdjust="spacingAndGlyphs" stroke="#000000" stroke-width="0.35">Giai</text>
<text x="614.85" y="259.70" font-size="30.3" fill="#000000" textLength="70.38" lengthAdjust="spacingAndGlyphs" stroke="#000000" stroke-width="0.35">đoạn</text>
<text x="692.90" y="259.70" font-size="30.3" fill="#000000" textLength="17.19" lengthAdjust="spacingAndGlyphs" stroke="#000000" stroke-width="0.35">3</text>
<text x="717.77" y="259.70" font-size="30.3" fill="#000000" textLength="41.78" lengthAdjust="spacingAndGlyphs" stroke="#000000" stroke-width="0.35">(từ</text>
<text x="767.21" y="259.70" font-size="30.3" fill="#000000" textLength="258.20" lengthAdjust="spacingAndGlyphs" stroke="#000000" stroke-width="0.35">28/01-26/4/2021):</text>
<text x="1033.08" y="259.70" font-size="30.3" fill="#000000" textLength="77.34" lengthAdjust="spacingAndGlyphs" stroke="#000000" stroke-width="0.35">1.301</text>
<text x="1118.09" y="259.70" font-size="30.3" fill="#000000" textLength="30.60" lengthAdjust="spacingAndGlyphs" stroke="#000000" stroke-width="0.35">ca</text>
<text x="1156.36" y="259.70" font-size="30.3" fill="#000000" textLength="61.87" lengthAdjust="spacingAndGlyphs" stroke="#000000" stroke-width="0.35">(910</text>
<text x="1225.90" y="259.70" font-size="30.3" fill="#000000" textLength="30.60" lengthAdjust="spacingAndGlyphs" stroke="#000000" stroke-width="0.35">ca</text>
<text x="1264.16" y="259.70" font-size="30.3" fill="#000000" textLength="74.87" lengthAdjust="spacingAndGlyphs" stroke="#000000" stroke-width="0.35">trong</text>
<text x="1346.70" y="259.70" font-size="30.3" fill="#000000" textLength="70.85" lengthAdjust="spacingAndGlyphs" stroke="#000000" stroke-width="0.35">nước</text>
<text x="1425.22" y="259.70" font-size="30.3" fill="#000000" textLength="31.57" lengthAdjust="spacingAndGlyphs" stroke="#000000" stroke-width="0.35">và</text>
<text x="1464.46" y="259.70" font-size="30.3" fill="#000000" textLength="51.58" lengthAdjust="spacingAndGlyphs" stroke="#000000" stroke-width="0.35">391</text>
<text x="1523.72" y="259.70" font-size="30.3" fill="#000000" textLength="30.60" lengthAdjust="spacingAndGlyphs" stroke="#000000" stroke-width="0.35">ca</text>
<text x="1561.98" y="259.70" font-size="30.3" fill="#000000" textLength="69.72" lengthAdjust="spacingAndGlyphs" stroke="#000000" stroke-width="0.35">nhập</text>
<text x="1639.37" y="259.70" font-size="30.3" fill="#000000" textLength="76.53" lengthAdjust="spacingAndGlyphs" stroke="#000000" stroke-width="0.35">cảnh)</text>
<text x="535.90" y="301.20" font-size="30.3" fill="#000000" textLength="10.39" lengthAdjust="spacingAndGlyphs" stroke="#000000" stroke-width="0.35">-</text>
<text x="553.96" y="301.20" font-size="30.3" fill="#000000" textLength="53.22" lengthAdjust="spacingAndGlyphs" stroke="#000000" stroke-width="0.35">Giai</text>
<text x="614.85" y="301.20" font-size="30.3" fill="#000000" textLength="70.38" lengthAdjust="spacingAndGlyphs" stroke="#000000" stroke-width="0.35">đoạn</text>
<text x="692.90" y="301.20" font-size="30.3" fill="#000000" textLength="17.19" lengthAdjust="spacingAndGlyphs" stroke="#000000" stroke-width="0.35">4</text>
<text x="717.77" y="301.20" font-size="30.3" fill="#000000" textLength="41.78" lengthAdjust="spacingAndGlyphs" stroke="#000000" stroke-width="0.35">(từ</text>
<text x="767.21" y="301.20" font-size="30.3" fill="#000000" textLength="165.93" lengthAdjust="spacingAndGlyphs" stroke="#000000" stroke-width="0.35">27/4/2021):</text>
<text x="940.81" y="301.20" font-size="30.3" fill="#000000" textLength="137.49" lengthAdjust="spacingAndGlyphs" stroke="#000000" stroke-width="0.35">2.138.570</text>
<text x="1085.97" y="301.20" font-size="30.3" fill="#000000" textLength="30.60" lengthAdjust="spacingAndGlyphs" stroke="#000000" stroke-width="0.35">ca</text>
<text x="1124.24" y="301.20" font-size="30.3" fill="#000000" textLength="147.78" lengthAdjust="spacingAndGlyphs" stroke="#000000" stroke-width="0.35">(2.134.788</text>
<text x="1279.68" y="301.20" font-size="30.3" fill="#000000" textLength="30.60" lengthAdjust="spacingAndGlyphs" stroke="#000000" stroke-width="0.35">ca</text>
<text x="1317.95" y="301.20" font-size="30.3" fill="#000000" textLength="74.87" lengthAdjust="spacingAndGlyphs" stroke="#000000" stroke-width="0.35">trong</text>
<text x="1400.49" y="301.20" font-size="30.3" fill="#000000" textLength="70.85" lengthAdjust="spacingAndGlyphs" stroke="#000000" stroke-width="0.35">nước</text>
<text x="1479.01" y="301.20" font-size="30.3" fill="#000000" textLength="31.57" lengthAdjust="spacingAndGlyphs" stroke="#000000" stroke-width="0.35">và</text>
<text x="1518.25" y="301.20" font-size="30.3" fill="#000000" textLength="77.34" lengthAdjust="spacingAndGlyphs" stroke="#000000" stroke-width="0.35">3.782</text>
<text x="1603.26" y="301.20" font-size="30.3" fill="#000000" textLength="30.60" lengthAdjust="spacingAndGlyphs" stroke="#000000" stroke-width="0.35">ca</text>
<text x="1641.53" y="301.20" font-size="30.3" fill="#000000" textLength="69.72" lengthAdjust="spacingAndGlyphs" stroke="#000000" stroke-width="0.35">nhập</text>
<text x="1718.92" y="301.20" font-size="30.3" fill="#000000" textLength="76.53" lengthAdjust="spacingAndGlyphs" stroke="#000000" stroke-width="0.35">cảnh)</text>
</g>
<rect x="177" y="1149.5" width="44" height="22" fill="#548235" stroke="#00b050" stroke-width="1"/>
<g font-family="Liberation Sans, sans-serif">
<text x="225.00" y="1172.00" font-size="36.8" fill="#595959" textLength="39.89" lengthAdjust="spacingAndGlyphs">Số</text>
<text x="274.03" y="1172.00" font-size="36.8" fill="#595959" textLength="36.45" lengthAdjust="spacingAndGlyphs">ca</text>
<text x="319.62" y="1172.00" font-size="36.8" fill="#595959" textLength="104.15" lengthAdjust="spacingAndGlyphs">nhiễm</text>
<text x="432.90" y="1172.00" font-size="36.8" fill="#595959" textLength="159.65" lengthAdjust="spacingAndGlyphs">COVID-19</text>
<text x="601.69" y="1172.00" font-size="36.8" fill="#595959" textLength="83.07" lengthAdjust="spacingAndGlyphs">nhập</text>
<text x="693.90" y="1172.00" font-size="36.8" fill="#595959" textLength="89.74" lengthAdjust="spacingAndGlyphs">cảnh:</text>
<text x="792.77" y="1172.00" font-size="36.8" fill="#595959" textLength="92.15" lengthAdjust="spacingAndGlyphs">5.064</text>
<text x="894.06" y="1172.00" font-size="36.8" fill="#595959" textLength="36.45" lengthAdjust="spacingAndGlyphs">ca</text>
</g>
<line x1="987.6" y1="1160.5" x2="1031.4" y2="1160.5" stroke="#ff0a0a" stroke-width="4.8" stroke-linecap="round"/>
<text x="1036.5" y="1171.4" font-family="Liberation Sans, sans-serif" font-size="37.6" fill="#595959" textLength="794" lengthAdjust="spacingAndGlyphs">Số ca nhiễm COVID-19 trong nước: 2.136.358 ca</text>
<g id="logo">
<defs><clipPath id="discClip"><ellipse cx="157.30" cy="115.50" rx="58.50" ry="62.00"/></clipPath></defs>
<g clip-path="url(#discClip)">
<rect x="90" y="50" width="140" height="29.2" fill="#ee1c25"/>
<rect x="90" y="79.2" width="140" height="2" fill="#ffffff"/>
<rect x="90" y="81.2" width="140" height="100" fill="#2e3192"/>
</g>
<g transform="translate(157.30,115.50) scale(0.9435,1)" fill="none" stroke="#3b3e9a" stroke-width="1.05" stroke-opacity="0.92">
<path d="M-42.58 -53.53 A68.40 68.40 0 0 0 -58.13 36.04"/>
<path d="M42.58 -53.53 A68.40 68.40 0 0 1 58.13 36.04"/>
<path d="M-44.68 -56.17 A71.77 71.77 0 0 0 -61.00 37.82"/>
<path d="M44.68 -56.17 A71.77 71.77 0 0 1 61.00 37.82"/>
<path d="M-46.78 -58.81 A75.14 75.14 0 0 0 -63.86 39.60"/>
<path d="M46.78 -58.81 A75.14 75.14 0 0 1 63.86 39.60"/>
<path d="M-48.87 -61.44 A78.51 78.51 0 0 0 -66.73 41.37"/>
<path d="M48.87 -61.44 A78.51 78.51 0 0 1 66.73 41.37"/>
</g>
<polygon points="157.10,60.30 158.72,64.98 163.66,65.07 159.72,68.05 161.16,72.78 157.10,69.95 153.04,72.78 154.48,68.05 150.54,65.07 155.48,64.98" fill="#fff200"/>
<g transform="translate(157.30,115.50) scale(0.9435,1)" font-family="Liberation Sans, sans-serif" fill="#20246f">
<text transform="translate(-29.05,-60.71) rotate(-25.57) scale(1.000,1)" text-anchor="middle" font-size="15.60" stroke="#20246f" stroke-width="0.75">B</text>
<text transform="translate(-16.01,-65.37) rotate(-13.77) scale(1.000,1)" text-anchor="middle" font-size="15.60" stroke="#20246f" stroke-width="0.75">Ộ</text>
<text transform="translate(3.56,-67.21) rotate(3.03) scale(1.000,1)" text-anchor="middle" font-size="15.60" stroke="#20246f" stroke-width="0.75">Y</text>
<text transform="translate(21.31,-63.84) rotate(18.46) scale(1.000,1)" text-anchor="middle" font-size="15.60" stroke="#20246f" stroke-width="0.75">T</text>
<text transform="translate(30.94,-59.77) rotate(27.37) scale(1.000,1)" text-anchor="middle" font-size="15.60" stroke="#20246f" stroke-width="0.75">Ế</text>
<text transform="translate(-56.55,53.72) rotate(46.47) scale(0.834,1)" text-anchor="middle" font-size="15.00" stroke="#20246f" stroke-width="0.65">M</text>
<text transform="translate(-51.55,58.54) rotate(41.37) scale(0.834,1)" text-anchor="middle" font-size="15.00" stroke="#20246f" stroke-width="0.65">I</text>
<text transform="translate(-46.70,62.48) rotate(36.78) scale(0.834,1)" text-anchor="middle" font-size="15.00" stroke="#20246f" stroke-width="0.65">N</text>
<text transform="translate(-41.54,66.02) rotate(32.18) scale(0.834,1)" text-anchor="middle" font-size="15.00" stroke="#20246f" stroke-width="0.65">I</text>
<text transform="translate(-36.43,68.97) rotate(27.84) scale(0.834,1)" text-anchor="middle" font-size="15.00" stroke="#20246f" stroke-width="0.65">S</text>
<text transform="translate(-29.18,72.34) rotate(21.97) scale(0.834,1)" text-anchor="middle" font-size="15.00" stroke="#20246f" stroke-width="0.65">T</text>
<text transform="translate(-21.30,75.04) rotate(15.85) scale(0.834,1)" text-anchor="middle" font-size="15.00" stroke="#20246f" stroke-width="0.65">R</text>
<text transform="translate(-12.83,76.94) rotate(9.46) scale(0.834,1)" text-anchor="middle" font-size="15.00" stroke="#20246f" stroke-width="0.65">Y</text>
<text transform="translate(2.39,77.96) rotate(-1.75) scale(0.712,1)" text-anchor="middle" font-size="15.00" stroke="#20246f" stroke-width="0.65">O</text>
<text transform="translate(9.78,77.38) rotate(-7.20) scale(0.712,1)" text-anchor="middle" font-size="15.00" stroke="#20246f" stroke-width="0.65">F</text>
<text transform="translate(23.90,74.25) rotate(-17.84) scale(0.814,1)" text-anchor="middle" font-size="15.00" stroke="#20246f" stroke-width="0.65">H</text>
<text transform="translate(31.82,71.22) rotate(-24.07) scale(0.814,1)" text-anchor="middle" font-size="15.00" stroke="#20246f" stroke-width="0.65">E</text>
<text transform="translate(39.07,67.51) rotate(-30.06) scale(0.814,1)" text-anchor="middle" font-size="15.00" stroke="#20246f" stroke-width="0.65">A</text>
<text transform="translate(45.34,63.47) rotate(-35.54) scale(0.814,1)" text-anchor="middle" font-size="15.00" stroke="#20246f" stroke-width="0.65">L</text>
<text transform="translate(50.95,59.06) rotate(-40.78) scale(0.814,1)" text-anchor="middle" font-size="15.00" stroke="#20246f" stroke-width="0.65">T</text>
<text transform="translate(56.82,53.43) rotate(-46.76) scale(0.814,1)" text-anchor="middle" font-size="15.00" stroke="#20246f" stroke-width="0.65">H</text>
</g>
<g>
<path d="M155.07 111.41 L155.23 111.37 L155.41 111.32 L155.61 111.27 L155.82 111.22 L156.04 111.17 L156.28 111.11 L156.52 111.05 L156.77 111.00 L157.03 110.95 L157.29 110.90 L157.55 110.85 L157.81 110.81 L158.07 110.77 L158.34 110.74 L158.67 110.70 L159.02 110.65 L159.37 110.59 L159.72 110.54 L160.06 110.49 L160.39 110.45 L160.72 110.41 L161.04 110.39 L161.35 110.37 L161.64 110.37 L161.91 110.38 L162.17 110.39 L162.40 110.43 L162.65 110.47 L162.95 110.54 L163.29 110.62 L163.63 110.71 L163.98 110.80 L164.32 110.91 L164.66 111.02 L164.99 111.15 L165.31 111.28 L165.61 111.42 L165.89 111.57 L166.15 111.72 L166.38 111.88 L166.58 112.03 L166.78 112.21 L167.00 112.44 L167.26 112.71 L167.52 113.01 L167.78 113.33 L168.04 113.67 L168.28 114.01 L168.50 114.36 L168.69 114.70 L168.86 115.03 L168.99 115.34 L169.08 115.62 L169.14 115.86 L169.17 116.04 L169.18 116.18 L169.16 116.34 L169.12 116.57 L169.04 116.85 L168.92 117.17 L168.77 117.51 L168.59 117.88 L168.37 118.26 L168.13 118.64 L167.86 119.02 L167.58 119.40 L167.28 119.76 L166.97 120.11 L166.66 120.43 L166.37 120.72 L166.09 120.96 L165.78 121.19 L165.44 121.41 L165.06 121.64 L164.65 121.86 L164.21 122.08 L163.73 122.30 L163.23 122.51 L162.71 122.73 L162.17 122.95 L161.61 123.18 L161.03 123.41 L160.45 123.66 L159.89 123.90 L159.39 124.11 L158.87 124.30 L158.31 124.49 L157.71 124.67 L157.08 124.86 L156.43 125.06 L155.76 125.26 L155.07 125.48 L154.38 125.71 L153.69 125.97 L152.99 126.26 L152.30 126.59 L151.62 126.97 L150.98 127.38 L150.40 127.81 L149.86 128.25 L149.33 128.71 L148.81 129.20 L148.31 129.71 L147.82 130.24 L147.37 130.79 L146.93 131.36 L146.53 131.95 L146.17 132.56 L145.84 133.19 L145.56 133.85 L145.34 134.53 L145.18 135.26 L145.11 136.01 L145.13 136.74 L145.22 137.45 L145.37 138.14 L145.56 138.80 L145.80 139.43 L146.07 140.05 L146.38 140.64 L146.70 141.21 L147.04 141.76 L147.40 142.28 L147.77 142.78 L148.15 143.25 L148.56 143.72 L149.02 144.19 L149.52 144.63 L150.05 145.03 L150.58 145.39 L151.11 145.71 L151.65 146.01 L152.18 146.29 L152.71 146.55 L153.23 146.80 L153.74 147.03 L154.23 147.26 L154.70 147.48 L155.14 147.70 L155.59 147.93 L156.09 148.19 L156.62 148.45 L157.15 148.69 L157.68 148.92 L158.20 149.15 L158.71 149.36 L159.20 149.57 L159.67 149.78 L160.11 149.98 L160.52 150.18 L160.89 150.37 L161.21 150.55 L161.48 150.73 L161.71 150.90 L161.93 151.10 L162.15 151.31 L162.35 151.53 L162.54 151.75 L162.70 151.97 L162.84 152.19 L162.97 152.40 L163.07 152.60 L163.15 152.78 L163.20 152.95 L163.25 153.10 L163.27 153.23 L163.28 153.33 L163.29 153.41 L163.29 153.47 L163.27 153.57 L163.22 153.70 L163.14 153.87 L163.03 154.06 L162.88 154.28 L162.71 154.50 L162.50 154.74 L162.28 154.98 L162.04 155.22 L161.78 155.46 L161.50 155.70 L161.22 155.93 L160.96 156.14 L160.71 156.31 L160.43 156.48 L160.10 156.65 L159.74 156.83 L159.34 157.00 L158.93 157.17 L158.49 157.34 L158.05 157.51 L157.60 157.69 L157.15 157.87 L156.70 158.06 L156.26 158.26 L155.84 158.47 L155.44 158.70 L155.10 158.91 L154.78 159.11 L154.46 159.32 L154.14 159.53 L153.82 159.75 L153.50 159.98 L153.20 160.21 L152.91 160.46 L152.63 160.72 L152.36 160.99 L152.11 161.30 L151.89 161.64 L151.70 162.04 L151.58 162.48 L151.53 162.93 L151.57 163.36 L151.66 163.76 L151.80 164.12 L151.96 164.46 L152.16 164.78 L152.38 165.07 L152.62 165.36 L152.87 165.62 L153.14 165.87 L153.43 166.11 L153.72 166.33 L154.03 166.54 L154.36 166.73 L154.74 166.92 L155.14 167.07 L155.56 167.19 L155.98 167.28 L156.40 167.36 L156.82 167.43 L157.24 167.49 L157.65 167.55 L158.05 167.61 L158.43 167.68 L158.78 167.75 L159.10 167.83 L159.38 167.91 L159.62 168.00 L159.85 168.11 L160.08 168.24 L160.29 168.38 L160.50 168.53 L160.70 168.68 L160.89 168.84 L161.08 169.01 L161.26 169.18 L161.44 169.35 L161.61 169.53 L161.78 169.71 L161.95 169.90 L162.13 170.08 L162.29 170.25 L162.45 170.41 L162.60 170.58 L162.76 170.76 L162.92 170.96 L163.08 171.16 L163.23 171.37 L163.38 171.58 L163.53 171.78 L163.67 171.98 L163.80 172.17 L163.92 172.35 L164.03 172.51 L164.13 172.65 L164.21 172.77 L165.04 172.33 L165.00 172.21 L164.95 172.06 L164.90 171.89 L164.84 171.68 L164.78 171.45 L164.71 171.21 L164.62 170.95 L164.53 170.69 L164.43 170.41 L164.32 170.14 L164.19 169.86 L164.05 169.58 L163.90 169.32 L163.73 169.07 L163.56 168.85 L163.40 168.64 L163.22 168.43 L163.03 168.21 L162.83 168.00 L162.62 167.78 L162.40 167.57 L162.17 167.36 L161.92 167.16 L161.66 166.96 L161.38 166.76 L161.09 166.57 L160.78 166.39 L160.45 166.22 L160.08 166.05 L159.68 165.91 L159.27 165.79 L158.85 165.68 L158.44 165.59 L158.02 165.50 L157.61 165.42 L157.21 165.33 L156.83 165.25 L156.48 165.16 L156.16 165.07 L155.89 164.97 L155.68 164.87 L155.51 164.76 L155.33 164.63 L155.15 164.48 L154.97 164.32 L154.80 164.14 L154.64 163.97 L154.51 163.79 L154.39 163.62 L154.30 163.45 L154.23 163.31 L154.19 163.18 L154.18 163.09 L154.18 163.04 L154.20 163.03 L154.21 163.07 L154.21 163.10 L154.24 163.09 L154.30 163.04 L154.40 162.95 L154.54 162.83 L154.72 162.70 L154.93 162.56 L155.17 162.41 L155.44 162.25 L155.72 162.09 L156.03 161.92 L156.34 161.75 L156.66 161.57 L156.97 161.41 L157.26 161.26 L157.57 161.12 L157.93 160.98 L158.32 160.83 L158.74 160.67 L159.17 160.51 L159.63 160.35 L160.09 160.18 L160.56 160.00 L161.04 159.81 L161.51 159.60 L161.97 159.38 L162.43 159.13 L162.85 158.86 L163.22 158.61 L163.58 158.35 L163.94 158.08 L164.29 157.80 L164.64 157.51 L164.98 157.20 L165.31 156.88 L165.63 156.54 L165.93 156.18 L166.21 155.80 L166.46 155.39 L166.69 154.94 L166.87 154.45 L166.98 153.94 L167.04 153.43 L167.03 152.93 L166.98 152.45 L166.88 151.98 L166.75 151.52 L166.58 151.08 L166.38 150.65 L166.16 150.23 L165.91 149.82 L165.63 149.42 L165.34 149.04 L165.02 148.67 L164.68 148.31 L164.31 147.94 L163.89 147.58 L163.43 147.24 L162.96 146.92 L162.47 146.62 L161.98 146.34 L161.48 146.08 L160.97 145.82 L160.47 145.56 L159.97 145.32 L159.48 145.07 L159.00 144.83 L158.54 144.59 L158.11 144.36 L157.68 144.11 L157.19 143.83 L156.68 143.56 L156.17 143.29 L155.67 143.04 L155.18 142.80 L154.70 142.56 L154.25 142.32 L153.82 142.08 L153.41 141.85 L153.04 141.61 L152.71 141.37 L152.42 141.14 L152.18 140.91 L151.95 140.67 L151.71 140.36 L151.44 140.02 L151.18 139.65 L150.94 139.27 L150.71 138.87 L150.50 138.48 L150.31 138.09 L150.16 137.71 L150.03 137.34 L149.94 137.00 L149.88 136.70 L149.86 136.43 L149.86 136.21 L149.89 136.03 L149.94 135.84 L150.04 135.58 L150.17 135.29 L150.36 134.96 L150.58 134.61 L150.85 134.24 L151.15 133.87 L151.48 133.49 L151.83 133.12 L152.21 132.76 L152.60 132.41 L153.00 132.07 L153.41 131.76 L153.79 131.49 L154.14 131.28 L154.53 131.08 L154.98 130.88 L155.48 130.69 L156.02 130.51 L156.60 130.33 L157.21 130.15 L157.85 129.97 L158.50 129.79 L159.17 129.60 L159.85 129.40 L160.54 129.19 L161.23 128.95 L161.88 128.69 L162.45 128.45 L163.00 128.23 L163.55 128.00 L164.12 127.77 L164.70 127.54 L165.28 127.29 L165.87 127.04 L166.46 126.76 L167.04 126.47 L167.63 126.15 L168.21 125.80 L168.78 125.42 L169.33 125.00 L169.86 124.56 L170.34 124.09 L170.79 123.62 L171.23 123.12 L171.66 122.60 L172.06 122.06 L172.45 121.50 L172.82 120.93 L173.16 120.33 L173.46 119.72 L173.74 119.09 L173.97 118.44 L174.16 117.77 L174.30 117.07 L174.36 116.34 L174.34 115.58 L174.23 114.85 L174.06 114.16 L173.84 113.50 L173.58 112.87 L173.28 112.27 L172.96 111.69 L172.61 111.14 L172.25 110.62 L171.88 110.12 L171.49 109.65 L171.10 109.21 L170.71 108.80 L170.30 108.40 L169.84 108.01 L169.35 107.65 L168.85 107.32 L168.34 107.03 L167.82 106.78 L167.31 106.55 L166.79 106.35 L166.28 106.18 L165.77 106.03 L165.27 105.90 L164.79 105.78 L164.31 105.69 L163.85 105.61 L163.37 105.55 L162.86 105.50 L162.32 105.48 L161.80 105.50 L161.31 105.55 L160.83 105.61 L160.37 105.69 L159.93 105.79 L159.51 105.89 L159.12 105.99 L158.74 106.10 L158.39 106.20 L158.07 106.30 L157.77 106.39 L157.47 106.47 L157.14 106.56 L156.80 106.67 L156.46 106.78 L156.14 106.90 L155.83 107.01 L155.54 107.13 L155.26 107.25 L155.00 107.36 L154.76 107.47 L154.54 107.57 L154.35 107.66 L154.18 107.74 L154.06 107.80 L153.94 107.85 Z" fill="#ffffff"/>
<path d="M153.60 107.60 L148.10 108.00 L144.50 109.30 L142.10 112.50 L140.50 116.90 L139.20 120.60 L136.30 122.60 L135.60 123.30 L136.60 124.40 L137.60 123.20 L140.90 121.00 L145.70 118.00 L149.70 115.10 L153.60 111.90 Z" fill="#ffffff" stroke="#ffffff" stroke-width="0.5" stroke-linejoin="round"/>
<circle cx="145.50" cy="113.00" r="0.75" fill="#2e3192"/>
<path d="M153.95000000000002 93.0 Q153.95000000000002 89.2 157.55 89.2 Q161.15 89.2 161.15 93.0 L160.15 97 L159.60000000000002 108 L159.60000000000002 150 L158.85000000000002 177.3 L156.25 177.3 L155.5 150 L155.5 108 L154.95000000000002 97 Z" fill="#ffffff" stroke="#2e3192" stroke-width="1.6" paint-order="stroke"/>
<defs><clipPath id="frontClip"><rect x="151.5" y="121.5" width="12" height="11"/><rect x="152.5" y="155.5" width="10" height="8"/></clipPath></defs>
<g clip-path="url(#frontClip)"><path d="M155.07 111.41 L155.23 111.37 L155.41 111.32 L155.61 111.27 L155.82 111.22 L156.04 111.17 L156.28 111.11 L156.52 111.05 L156.77 111.00 L157.03 110.95 L157.29 110.90 L157.55 110.85 L157.81 110.81 L158.07 110.77 L158.34 110.74 L158.67 110.70 L159.02 110.65 L159.37 110.59 L159.72 110.54 L160.06 110.49 L160.39 110.45 L160.72 110.41 L161.04 110.39 L161.35 110.37 L161.64 110.37 L161.91 110.38 L162.17 110.39 L162.40 110.43 L162.65 110.47 L162.95 110.54 L163.29 110.62 L163.63 110.71 L163.98 110.80 L164.32 110.91 L164.66 111.02 L164.99 111.15 L165.31 111.28 L165.61 111.42 L165.89 111.57 L166.15 111.72 L166.38 111.88 L166.58 112.03 L166.78 112.21 L167.00 112.44 L167.26 112.71 L167.52 113.01 L167.78 113.33 L168.04 113.67 L168.28 114.01 L168.50 114.36 L168.69 114.70 L168.86 115.03 L168.99 115.34 L169.08 115.62 L169.14 115.86 L169.17 116.04 L169.18 116.18 L169.16 116.34 L169.12 116.57 L169.04 116.85 L168.92 117.17 L168.77 117.51 L168.59 117.88 L168.37 118.26 L168.13 118.64 L167.86 119.02 L167.58 119.40 L167.28 119.76 L166.97 120.11 L166.66 120.43 L166.37 120.72 L166.09 120.96 L165.78 121.19 L165.44 121.41 L165.06 121.64 L164.65 121.86 L164.21 122.08 L163.73 122.30 L163.23 122.51 L162.71 122.73 L162.17 122.95 L161.61 123.18 L161.03 123.41 L160.45 123.66 L159.89 123.90 L159.39 124.11 L158.87 124.30 L158.31 124.49 L157.71 124.67 L157.08 124.86 L156.43 125.06 L155.76 125.26 L155.07 125.48 L154.38 125.71 L153.69 125.97 L152.99 126.26 L152.30 126.59 L151.62 126.97 L150.98 127.38 L150.40 127.81 L149.86 128.25 L149.33 128.71 L148.81 129.20 L148.31 129.71 L147.82 130.24 L147.37 130.79 L146.93 131.36 L146.53 131.95 L146.17 132.56 L145.84 133.19 L145.56 133.85 L145.34 134.53 L145.18 135.26 L145.11 136.01 L145.13 136.74 L145.22 137.45 L145.37 138.14 L145.56 138.80 L145.80 139.43 L146.07 140.05 L146.38 140.64 L146.70 141.21 L147.04 141.76 L147.40 142.28 L147.77 142.78 L148.15 143.25 L148.56 143.72 L149.02 144.19 L149.52 144.63 L150.05 145.03 L150.58 145.39 L151.11 145.71 L151.65 146.01 L152.18 146.29 L152.71 146.55 L153.23 146.80 L153.74 147.03 L154.23 147.26 L154.70 147.48 L155.14 147.70 L155.59 147.93 L156.09 148.19 L156.62 148.45 L157.15 148.69 L157.68 148.92 L158.20 149.15 L158.71 149.36 L159.20 149.57 L159.67 149.78 L160.11 149.98 L160.52 150.18 L160.89 150.37 L161.21 150.55 L161.48 150.73 L161.71 150.90 L161.93 151.10 L162.15 151.31 L162.35 151.53 L162.54 151.75 L162.70 151.97 L162.84 152.19 L162.97 152.40 L163.07 152.60 L163.15 152.78 L163.20 152.95 L163.25 153.10 L163.27 153.23 L163.28 153.33 L163.29 153.41 L163.29 153.47 L163.27 153.57 L163.22 153.70 L163.14 153.87 L163.03 154.06 L162.88 154.28 L162.71 154.50 L162.50 154.74 L162.28 154.98 L162.04 155.22 L161.78 155.46 L161.50 155.70 L161.22 155.93 L160.96 156.14 L160.71 156.31 L160.43 156.48 L160.10 156.65 L159.74 156.83 L159.34 157.00 L158.93 157.17 L158.49 157.34 L158.05 157.51 L157.60 157.69 L157.15 157.87 L156.70 158.06 L156.26 158.26 L155.84 158.47 L155.44 158.70 L155.10 158.91 L154.78 159.11 L154.46 159.32 L154.14 159.53 L153.82 159.75 L153.50 159.98 L153.20 160.21 L152.91 160.46 L152.63 160.72 L152.36 160.99 L152.11 161.30 L151.89 161.64 L151.70 162.04 L151.58 162.48 L151.53 162.93 L151.57 163.36 L151.66 163.76 L151.80 164.12 L151.96 164.46 L152.16 164.78 L152.38 165.07 L152.62 165.36 L152.87 165.62 L153.14 165.87 L153.43 166.11 L153.72 166.33 L154.03 166.54 L154.36 166.73 L154.74 166.92 L155.14 167.07 L155.56 167.19 L155.98 167.28 L156.40 167.36 L156.82 167.43 L157.24 167.49 L157.65 167.55 L158.05 167.61 L158.43 167.68 L158.78 167.75 L159.10 167.83 L159.38 167.91 L159.62 168.00 L159.85 168.11 L160.08 168.24 L160.29 168.38 L160.50 168.53 L160.70 168.68 L160.89 168.84 L161.08 169.01 L161.26 169.18 L161.44 169.35 L161.61 169.53 L161.78 169.71 L161.95 169.90 L162.13 170.08 L162.29 170.25 L162.45 170.41 L162.60 170.58 L162.76 170.76 L162.92 170.96 L163.08 171.16 L163.23 171.37 L163.38 171.58 L163.53 171.78 L163.67 171.98 L163.80 172.17 L163.92 172.35 L164.03 172.51 L164.13 172.65 L164.21 172.77 L165.04 172.33 L165.00 172.21 L164.95 172.06 L164.90 171.89 L164.84 171.68 L164.78 171.45 L164.71 171.21 L164.62 170.95 L164.53 170.69 L164.43 170.41 L164.32 170.14 L164.19 169.86 L164.05 169.58 L163.90 169.32 L163.73 169.07 L163.56 168.85 L163.40 168.64 L163.22 168.43 L163.03 168.21 L162.83 168.00 L162.62 167.78 L162.40 167.57 L162.17 167.36 L161.92 167.16 L161.66 166.96 L161.38 166.76 L161.09 166.57 L160.78 166.39 L160.45 166.22 L160.08 166.05 L159.68 165.91 L159.27 165.79 L158.85 165.68 L158.44 165.59 L158.02 165.50 L157.61 165.42 L157.21 165.33 L156.83 165.25 L156.48 165.16 L156.16 165.07 L155.89 164.97 L155.68 164.87 L155.51 164.76 L155.33 164.63 L155.15 164.48 L154.97 164.32 L154.80 164.14 L154.64 163.97 L154.51 163.79 L154.39 163.62 L154.30 163.45 L154.23 163.31 L154.19 163.18 L154.18 163.09 L154.18 163.04 L154.20 163.03 L154.21 163.07 L154.21 163.10 L154.24 163.09 L154.30 163.04 L154.40 162.95 L154.54 162.83 L154.72 162.70 L154.93 162.56 L155.17 162.41 L155.44 162.25 L155.72 162.09 L156.03 161.92 L156.34 161.75 L156.66 161.57 L156.97 161.41 L157.26 161.26 L157.57 161.12 L157.93 160.98 L158.32 160.83 L158.74 160.67 L159.17 160.51 L159.63 160.35 L160.09 160.18 L160.56 160.00 L161.04 159.81 L161.51 159.60 L161.97 159.38 L162.43 159.13 L162.85 158.86 L163.22 158.61 L163.58 158.35 L163.94 158.08 L164.29 157.80 L164.64 157.51 L164.98 157.20 L165.31 156.88 L165.63 156.54 L165.93 156.18 L166.21 155.80 L166.46 155.39 L166.69 154.94 L166.87 154.45 L166.98 153.94 L167.04 153.43 L167.03 152.93 L166.98 152.45 L166.88 151.98 L166.75 151.52 L166.58 151.08 L166.38 150.65 L166.16 150.23 L165.91 149.82 L165.63 149.42 L165.34 149.04 L165.02 148.67 L164.68 148.31 L164.31 147.94 L163.89 147.58 L163.43 147.24 L162.96 146.92 L162.47 146.62 L161.98 146.34 L161.48 146.08 L160.97 145.82 L160.47 145.56 L159.97 145.32 L159.48 145.07 L159.00 144.83 L158.54 144.59 L158.11 144.36 L157.68 144.11 L157.19 143.83 L156.68 143.56 L156.17 143.29 L155.67 143.04 L155.18 142.80 L154.70 142.56 L154.25 142.32 L153.82 142.08 L153.41 141.85 L153.04 141.61 L152.71 141.37 L152.42 141.14 L152.18 140.91 L151.95 140.67 L151.71 140.36 L151.44 140.02 L151.18 139.65 L150.94 139.27 L150.71 138.87 L150.50 138.48 L150.31 138.09 L150.16 137.71 L150.03 137.34 L149.94 137.00 L149.88 136.70 L149.86 136.43 L149.86 136.21 L149.89 136.03 L149.94 135.84 L150.04 135.58 L150.17 135.29 L150.36 134.96 L150.58 134.61 L150.85 134.24 L151.15 133.87 L151.48 133.49 L151.83 133.12 L152.21 132.76 L152.60 132.41 L153.00 132.07 L153.41 131.76 L153.79 131.49 L154.14 131.28 L154.53 131.08 L154.98 130.88 L155.48 130.69 L156.02 130.51 L156.60 130.33 L157.21 130.15 L157.85 129.97 L158.50 129.79 L159.17 129.60 L159.85 129.40 L160.54 129.19 L161.23 128.95 L161.88 128.69 L162.45 128.45 L163.00 128.23 L163.55 128.00 L164.12 127.77 L164.70 127.54 L165.28 127.29 L165.87 127.04 L166.46 126.76 L167.04 126.47 L167.63 126.15 L168.21 125.80 L168.78 125.42 L169.33 125.00 L169.86 124.56 L170.34 124.09 L170.79 123.62 L171.23 123.12 L171.66 122.60 L172.06 122.06 L172.45 121.50 L172.82 120.93 L173.16 120.33 L173.46 119.72 L173.74 119.09 L173.97 118.44 L174.16 117.77 L174.30 117.07 L174.36 116.34 L174.34 115.58 L174.23 114.85 L174.06 114.16 L173.84 113.50 L173.58 112.87 L173.28 112.27 L172.96 111.69 L172.61 111.14 L172.25 110.62 L171.88 110.12 L171.49 109.65 L171.10 109.21 L170.71 108.80 L170.30 108.40 L169.84 108.01 L169.35 107.65 L168.85 107.32 L168.34 107.03 L167.82 106.78 L167.31 106.55 L166.79 106.35 L166.28 106.18 L165.77 106.03 L165.27 105.90 L164.79 105.78 L164.31 105.69 L163.85 105.61 L163.37 105.55 L162.86 105.50 L162.32 105.48 L161.80 105.50 L161.31 105.55 L160.83 105.61 L160.37 105.69 L159.93 105.79 L159.51 105.89 L159.12 105.99 L158.74 106.10 L158.39 106.20 L158.07 106.30 L157.77 106.39 L157.47 106.47 L157.14 106.56 L156.80 106.67 L156.46 106.78 L156.14 106.90 L155.83 107.01 L155.54 107.13 L155.26 107.25 L155.00 107.36 L154.76 107.47 L154.54 107.57 L154.35 107.66 L154.18 107.74 L154.06 107.80 L153.94 107.85 Z" fill="#ffffff" stroke="#2e3192" stroke-width="1.6" paint-order="stroke"/></g>
</g>
</g>
</svg>
</body>
</html>
